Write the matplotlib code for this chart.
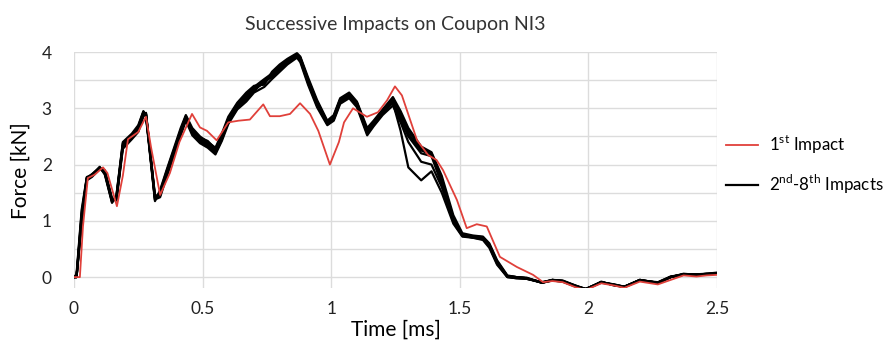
import matplotlib
matplotlib.use('Agg')
import matplotlib.pyplot as plt
from matplotlib.ticker import MultipleLocator

FONT = 'Lato'

# 1st impact (red)
red_time = [0, 0.023, 0.035, 0.054, 0.08, 0.113, 0.13, 0.167, 0.19, 0.21,
            0.25, 0.28, 0.3, 0.335, 0.373, 0.41, 0.459, 0.49, 0.517, 0.555,
            0.6, 0.64, 0.684, 0.736, 0.762, 0.8, 0.84, 0.879, 0.918, 0.95,
            0.995, 1.03, 1.05, 1.085, 1.139, 1.182, 1.217, 1.248, 1.275, 1.334,
            1.377, 1.41, 1.435, 1.489, 1.527, 1.566, 1.605, 1.656, 1.722, 1.785,
            1.824, 1.86, 1.9, 1.95, 1.99, 2.05, 2.1, 2.14, 2.2, 2.27,
            2.32, 2.37, 2.42, 2.46, 2.5]
red_force = [0, 0, 0.9, 1.76, 1.82, 1.95, 1.85, 1.26, 1.8, 2.45,
             2.58, 2.85, 2.3, 1.46, 1.85, 2.4, 2.9, 2.66, 2.6, 2.43,
             2.75, 2.78, 2.8, 3.07, 2.86, 2.86, 2.9, 3.09, 2.9, 2.6,
             2.0, 2.4, 2.75, 3.0, 2.85, 2.93, 3.14, 3.39, 3.23, 2.43,
             2.17, 2.08, 1.9, 1.37, 0.87, 0.94, 0.9, 0.36, 0.18, 0.04,
             -0.09, -0.07, -0.09, -0.18, -0.23, -0.11, -0.15, -0.19, -0.08, -0.13,
             -0.05, 0.03, 0.01, 0.03, 0.04]

# 2nd-8th impacts (black), common time base
black_time = [0, 0.01, 0.03, 0.05, 0.07, 0.1, 0.12, 0.148, 0.165, 0.19,
              0.225, 0.25, 0.27, 0.28, 0.315, 0.335, 0.36, 0.393, 0.415, 0.435,
              0.46, 0.49, 0.52, 0.55, 0.575, 0.6, 0.635, 0.67, 0.7, 0.74,
              0.77, 0.8, 0.83, 0.867, 0.88, 0.91, 0.945, 0.985, 1.01, 1.035,
              1.07, 1.1, 1.14, 1.165, 1.2, 1.24, 1.27, 1.3, 1.35, 1.39,
              1.43, 1.475, 1.51, 1.55, 1.59, 1.615, 1.645, 1.685, 1.72, 1.76,
              1.82, 1.86, 1.9, 1.95, 1.99, 2.05, 2.1, 2.14, 2.2, 2.27,
              2.32, 2.37, 2.42, 2.46, 2.5]

impact2 = [0, 0, 1.1, 1.76, 1.82, 1.95, 1.85, 1.35, 1.42, 2.35,
           2.5, 2.65, 2.93, 2.9, 1.4, 1.5, 1.85, 2.3, 2.6, 2.85,
           2.6, 2.45, 2.38, 2.25, 2.5, 2.8, 3.05, 3.2, 3.35, 3.45,
           3.6, 3.72, 3.83, 3.96, 3.9, 3.5, 3.1, 2.75, 2.85, 3.15,
           3.25, 3.1, 2.6, 2.75, 2.95, 3.18, 2.9, 2.6, 2.3, 2.2,
           1.75, 1.05, 0.76, 0.72, 0.7, 0.58, 0.28, 0.02, 0.0, -0.02,
           -0.1, -0.05, -0.07, -0.16, -0.22, -0.09, -0.14, -0.17, -0.05, -0.1,
           0.0, 0.05, 0.04, 0.05, 0.07]
impact3 = [0, 0, 1.0, 1.74, 1.8, 1.93, 1.9, 1.4, 1.38, 2.3,
           2.48, 2.6, 2.88, 2.92, 1.45, 1.45, 1.8, 2.25, 2.55, 2.82,
           2.55, 2.4, 2.32, 2.2, 2.45, 2.75, 3.0, 3.15, 3.3, 3.5,
           3.55, 3.68, 3.8, 3.92, 3.85, 3.45, 3.05, 2.72, 2.8, 3.1,
           3.2, 3.05, 2.55, 2.7, 2.9, 3.12, 2.8, 2.5, 2.2, 2.15,
           1.65, 1.0, 0.74, 0.7, 0.68, 0.55, 0.24, 0.0, -0.02, -0.03,
           -0.09, -0.06, -0.08, -0.17, -0.21, -0.1, -0.13, -0.18, -0.06, -0.09,
           0.01, 0.04, 0.05, 0.06, 0.06]
impact4 = [0, 0.05, 1.2, 1.78, 1.8, 1.96, 1.82, 1.32, 1.45, 2.4,
           2.55, 2.7, 2.95, 2.85, 1.35, 1.55, 1.9, 2.35, 2.65, 2.88,
           2.65, 2.5, 2.4, 2.3, 2.55, 2.85, 3.1, 3.28, 3.4, 3.42,
           3.65, 3.78, 3.88, 3.98, 3.92, 3.55, 3.15, 2.78, 2.88, 3.18,
           3.28, 3.12, 2.65, 2.78, 2.98, 3.2, 2.95, 2.65, 2.32, 2.22,
           1.8, 1.1, 0.78, 0.74, 0.72, 0.6, 0.3, 0.03, 0.0, -0.02,
           -0.1, -0.05, -0.07, -0.15, -0.22, -0.08, -0.15, -0.17, -0.05, -0.11,
           0.0, 0.06, 0.04, 0.06, 0.08]
impact5 = [0, 0, 1.05, 1.75, 1.82, 1.94, 1.86, 1.36, 1.4, 2.33,
           2.5, 2.62, 2.9, 2.88, 1.42, 1.48, 1.83, 2.28, 2.58, 2.8,
           2.58, 2.42, 2.35, 2.22, 2.48, 2.78, 3.02, 3.22, 3.32, 3.48,
           3.58, 3.7, 3.85, 3.94, 3.88, 3.48, 3.08, 2.74, 2.83, 3.12,
           3.22, 3.08, 2.58, 2.72, 2.92, 3.1, 2.6, 1.95, 1.72, 1.88,
           1.5, 0.95, 0.72, 0.7, 0.66, 0.52, 0.22, 0.0, -0.02, -0.03,
           -0.1, -0.06, -0.08, -0.16, -0.21, -0.09, -0.14, -0.17, -0.06, -0.1,
           0.0, 0.05, 0.04, 0.05, 0.06]
impact6 = [0, 0, 0.95, 1.72, 1.78, 1.92, 1.88, 1.38, 1.36, 2.28,
           2.45, 2.58, 2.86, 2.9, 1.38, 1.42, 1.78, 2.22, 2.52, 2.78,
           2.52, 2.38, 2.3, 2.18, 2.42, 2.72, 2.98, 3.12, 3.28, 3.38,
           3.52, 3.65, 3.78, 3.9, 3.82, 3.42, 3.02, 2.7, 2.78, 3.08,
           3.18, 3.02, 2.52, 2.68, 2.88, 3.05, 2.75, 2.4, 2.05, 2.0,
           1.6, 0.98, 0.73, 0.71, 0.67, 0.54, 0.25, 0.01, -0.01, -0.03,
           -0.09, -0.05, -0.07, -0.16, -0.22, -0.09, -0.14, -0.18, -0.05, -0.1,
           0.01, 0.05, 0.05, 0.05, 0.07]
impact7 = [0, 0.02, 1.15, 1.77, 1.83, 1.95, 1.84, 1.33, 1.44, 2.38,
           2.52, 2.68, 2.94, 2.88, 1.37, 1.52, 1.88, 2.32, 2.62, 2.86,
           2.62, 2.48, 2.42, 2.28, 2.52, 2.82, 3.08, 3.25, 3.38, 3.52,
           3.62, 3.75, 3.86, 3.95, 3.9, 3.52, 3.12, 2.76, 2.86, 3.16,
           3.26, 3.1, 2.62, 2.76, 2.96, 3.15, 2.85, 2.55, 2.25, 2.18,
           1.7, 1.02, 0.75, 0.73, 0.71, 0.57, 0.26, 0.02, 0.0, -0.01,
           -0.1, -0.05, -0.06, -0.15, -0.21, -0.09, -0.13, -0.17, -0.05, -0.1,
           0.0, 0.05, 0.04, 0.06, 0.07]
impact8 = [0, 0, 1.08, 1.76, 1.81, 1.94, 1.87, 1.37, 1.4, 2.34,
           2.5, 2.64, 2.91, 2.91, 1.43, 1.47, 1.84, 2.27, 2.57, 2.84,
           2.57, 2.43, 2.36, 2.24, 2.47, 2.77, 3.03, 3.18, 3.33, 3.46,
           3.57, 3.7, 3.82, 3.93, 3.87, 3.47, 3.07, 2.73, 2.82, 3.13,
           3.23, 3.07, 2.57, 2.73, 2.93, 3.14, 2.82, 2.52, 2.27, 2.18,
           1.72, 1.03, 0.75, 0.71, 0.69, 0.56, 0.27, 0.01, 0.0, -0.02,
           -0.1, -0.06, -0.07, -0.16, -0.21, -0.09, -0.14, -0.17, -0.06, -0.1,
           0.0, 0.05, 0.04, 0.05, 0.06]


def main():
    plt.rcParams['font.family'] = [FONT, 'DejaVu Sans']
    plt.rcParams['mathtext.fontset'] = 'custom'
    plt.rcParams['mathtext.rm'] = FONT

    fig = plt.figure(figsize=(8.9, 3.47), dpi=100)
    ax = fig.add_axes([0.0831, 0.169, 0.7225, 0.681])

    black = None
    for f in [impact2, impact3, impact4, impact5, impact6, impact7, impact8]:
        black, = ax.plot(black_time, f, color='black', lw=1.6, zorder=3)
    red, = ax.plot(red_time, red_force, color='#e0403a', lw=1.3, zorder=4)

    ax.set_xlim(0, 2.5)
    ax.set_ylim(-0.2, 4)
    ax.yaxis.set_major_locator(MultipleLocator(1))
    ax.yaxis.set_minor_locator(MultipleLocator(0.5))
    ax.set_xticks([0, 0.5, 1, 1.5, 2, 2.5])
    ax.set_xticklabels(['0', '0.5', '1', '1.5', '2', '2.5'])
    ax.grid(True, which='both', color='#dcdcdc', lw=1.0, zorder=0)
    ax.tick_params(which='both', length=0, labelsize=12.5, colors='#222222')
    ax.tick_params(axis='x', pad=9)
    ax.tick_params(axis='y', pad=16)
    for s in ax.spines.values():
        s.set_visible(False)

    ax.set_xlabel('Time [ms]', fontsize=15, labelpad=2)
    ax.set_ylabel('Force [kN]', fontsize=15, labelpad=8)
    ax.set_title('Successive Impacts on Coupon NI3', fontsize=14, pad=16, color='#333333')

    fig.legend([red, black], ['1$^{\\mathrm{st}}$ Impact', '2$^{\\mathrm{nd}}$-8$^{\\mathrm{th}}$ Impacts'],
               loc='center left', bbox_to_anchor=(0.816, 0.525), frameon=False,
               fontsize=12.2, handlelength=1.9, labelspacing=0.95, handletextpad=0.6,
               borderaxespad=0.0, borderpad=0.0)

    plt.savefig('out.png', dpi=100)


if __name__ == '__main__':
    main()
